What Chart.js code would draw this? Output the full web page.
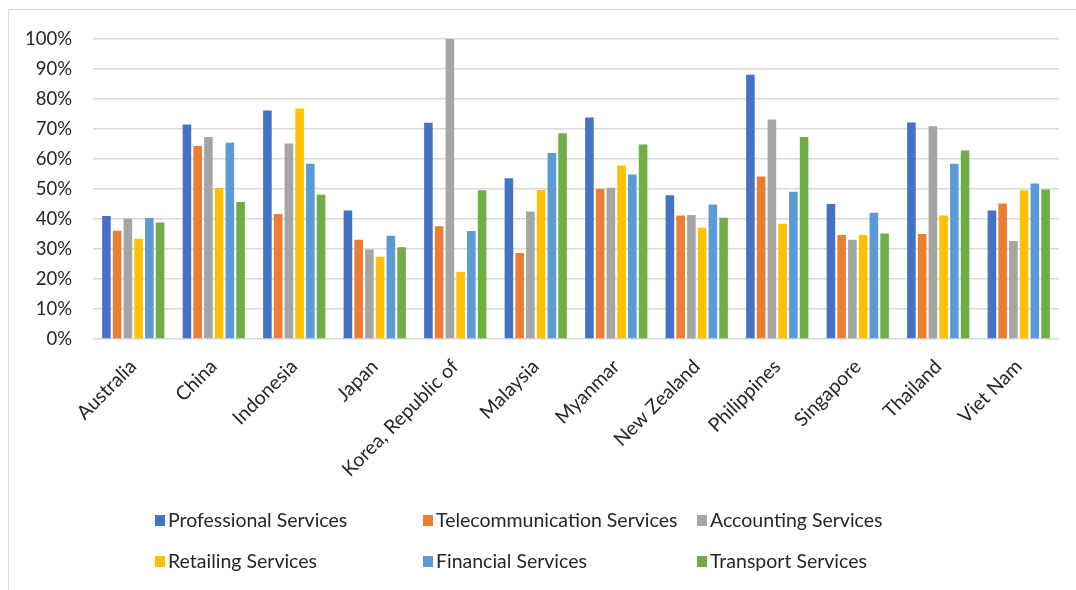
<!DOCTYPE html>
<html>
<head>
<meta charset="utf-8">
<title>Services by economy</title>
<script src="https://cdn.jsdelivr.net/npm/chart.js@4.4.1/dist/chart.umd.min.js"></script>
<style>
  html, body { margin: 0; padding: 0; background: #fff; overflow: hidden; }
  #wrap { position: relative; width: 1076px; height: 590px; }
  #frame { position: absolute; left: 8px; top: 9px; width: 1100px; height: 600px; border: 1px solid #d9d9d9; box-sizing: border-box; }
  canvas { position: absolute; left: 0; top: 0; }
</style>
</head>
<body>
<div id="wrap">
  <div id="frame"></div>
  <canvas id="servicesChart" width="1076" height="590"></canvas>
</div>
<script>
var countries = ['Australia', 'China', 'Indonesia', 'Japan', 'Korea, Republic of', 'Malaysia',
  'Myanmar', 'New Zealand', 'Philippines', 'Singapore', 'Thailand', 'Viet Nam'];

// shares in percent
var professional      = [41.0, 71.5, 76.2, 42.8, 72.1, 53.6, 73.8, 47.9, 88.1, 45.0, 72.2, 42.8];
var telecommunication = [36.1, 64.3, 41.7, 33.1, 37.6, 28.7, 50.0, 41.2, 54.2, 34.7, 35.0, 45.2];
var accounting        = [40.2, 67.3, 65.2, 29.8, 100,  42.5, 50.4, 41.3, 73.2, 33.1, 70.9, 32.7];
var retailing         = [33.4, 50.3, 76.8, 27.4, 22.4, 49.7, 57.8, 37.1, 38.4, 34.7, 41.2, 49.6];
var financial         = [40.3, 65.4, 58.4, 34.4, 36.0, 62.0, 54.8, 44.8, 49.1, 42.1, 58.4, 51.8];
var transport         = [38.8, 45.7, 48.1, 30.6, 49.6, 68.6, 64.8, 40.4, 67.3, 35.2, 62.8, 49.8];

var yTicks = [0, 10, 20, 30, 40, 50, 60, 70, 80, 90, 100];

var FONT = 'Lato, "Noto Sans", sans-serif';
var TEXT = '#262626';

// legend laid out as a fixed 3-column grid under the axis labels
var gridLegend = {
  id: 'gridLegend',
  afterDraw: function(chart, args, opts) {
    var ctx = chart.ctx;
    ctx.save();
    ctx.font = opts.size + 'px ' + FONT;
    ctx.textBaseline = 'middle';
    ctx.textAlign = 'left';
    chart.data.datasets.forEach(function(ds, i) {
      var x = opts.columns[i % 3];
      var y = opts.rows[Math.floor(i / 3)];
      ctx.fillStyle = ds.backgroundColor;
      ctx.fillRect(x, y - 5, 10, 11);
      ctx.fillStyle = opts.color;
      ctx.fillText(ds.label, x + 13, y + 1);
    });
    ctx.restore();
  }
};

function series(label, data, color) {
  return { label: label, data: data, backgroundColor: color, borderWidth: 0,
    barPercentage: 0.8, categoryPercentage: 0.8 };
}

var ctx = document.getElementById('servicesChart').getContext('2d');
var servicesChart = new Chart(ctx, {
  type: 'bar',
  data: {
    labels: countries,
    datasets: [
      series('Professional Services', professional, '#4472C4'),
      series('Telecommunication Services', telecommunication, '#ED7D31'),
      series('Accounting Services', accounting, '#A5A5A5'),
      series('Retailing Services', retailing, '#FFC000'),
      series('Financial Services', financial, '#5B9BD5'),
      series('Transport Services', transport, '#70AD47')
    ]
  },
  options: {
    responsive: false,
    animation: false,
    layout: { padding: { top: 39, right: 17, bottom: 100, left: 0 } },
    plugins: {
      legend: { display: false },
      tooltip: { enabled: false },
      gridLegend: { columns: [155, 423, 697], rows: [520, 561], size: 19.5, color: TEXT }
    },
    scales: {
      x: {
        grid: { display: false },
        border: { display: false },
        ticks: {
          color: TEXT,
          font: { family: FONT, size: 19.5 },
          maxRotation: 45,
          minRotation: 45,
          autoSkip: false,
          padding: 8
        },
        afterFit: function(scale) { scale.height = 151; }
      },
      y: {
        min: 0,
        max: 100,
        afterBuildTicks: function(scale) {
          scale.ticks = yTicks.map(function(v) { return { value: v }; });
        },
        grid: { color: '#d9d9d9', lineWidth: 1.5, drawTicks: false },
        border: { display: false },
        ticks: {
          color: TEXT,
          font: { family: FONT, size: 18.5 },
          padding: 21,
          callback: function(v) { return v + '%'; }
        },
        afterFit: function(scale) { scale.width = 93; }
      }
    }
  },
  plugins: [gridLegend]
});
</script>
</body>
</html>
